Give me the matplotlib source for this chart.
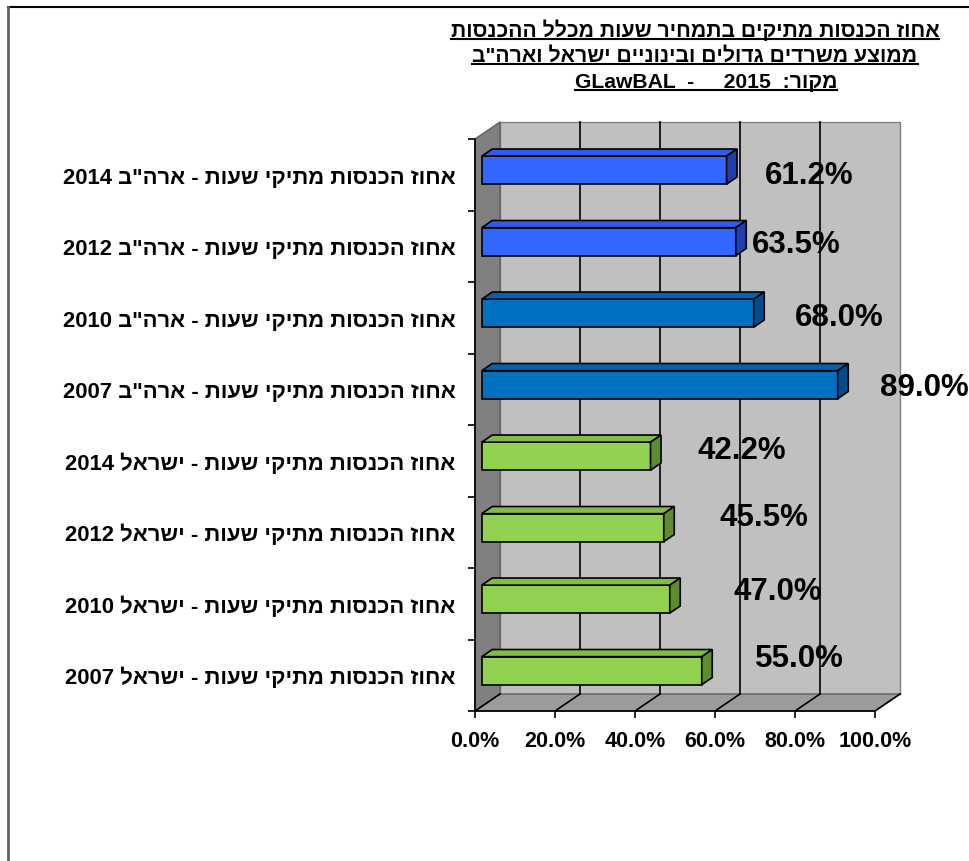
import re
import matplotlib
matplotlib.use("Agg")
import matplotlib.pyplot as plt
from matplotlib.patches import Polygon, Rectangle
from matplotlib.lines import Line2D

plt.rcParams['font.family'] = ['Liberation Sans', 'DejaVu Sans']

# data, bottom to top
labels = [
    'אחוז הכנסות מתיקי שעות - ישראל 2007',
    'אחוז הכנסות מתיקי שעות - ישראל 2010',
    'אחוז הכנסות מתיקי שעות - ישראל 2012',
    'אחוז הכנסות מתיקי שעות - ישראל 2014',
    'אחוז הכנסות מתיקי שעות - ארה"ב 2007',
    'אחוז הכנסות מתיקי שעות - ארה"ב 2010',
    'אחוז הכנסות מתיקי שעות - ארה"ב 2012',
    'אחוז הכנסות מתיקי שעות - ארה"ב 2014',
]
values = [55.0, 47.0, 45.5, 42.2, 89.0, 68.0, 63.5, 61.2]
xticks = [0, 20, 40, 60, 80, 100]
title_lines = [
    'אחוז הכנסות מתיקים בתמחיר שעות מכלל ההכנסות',
    'ממוצע משרדים גדולים ובינוניים ישראל וארה"ב',
    'מקור:  2015     -  GLawBAL',
]

# layout of the value labels (as Excel placed them)
label_x = [70, 64.5, 61.25, 55.5, 101.25, 80, 69.25, 72.5]
label_dy = [0.24, 0.18, 0.21, 0.15, 0.03, 0.01, 0.03, 0.0]

# face colours: front, top, side
green = ('#92D050', '#7FBD44', '#5E8C30')
blue = ('#0070C0', '#0065B0', '#004C8C')
bright = ('#3366FF', '#2E5CEB', '#1F3FAA')
bar_colors = [green] * 4 + [blue] * 2 + [bright] * 2


def visual(s):
    # crude RTL -> visual order, keeping latin/digit runs left-to-right
    r = s[::-1]
    return re.sub(r'[A-Za-z0-9.%]+', lambda m: m.group(0)[::-1], r)


W, H = 969, 862
fig = plt.figure(figsize=(W / 100, H / 100), dpi=100)

# front plane of the 3d box, in pixels
x0, x1, ytop, ybot = 475, 875, 140, 712
ax = fig.add_axes([x0 / W, 1 - ybot / H, (x1 - x0) / W, (ybot - ytop) / H])
ax.set_xlim(0, 100)
ax.set_ylim(-0.5, 7.5)
ax.patch.set_visible(False)

DX = 25 / 4.0                 # depth in x data units
DY = 17 / 71.5                # depth in category units
ylo, yhi = -0.5, 7.5

# back wall
ax.add_patch(Rectangle((DX, ylo + DY), 100, yhi - ylo, facecolor='#C0C0C0',
                       edgecolor='#808080', lw=1, clip_on=False, zorder=0))
# left wall
ax.add_patch(Polygon([(0, ylo), (DX, ylo + DY), (DX, yhi + DY), (0, yhi)],
                     closed=True, facecolor='#808080', edgecolor='#606060',
                     lw=1, clip_on=False, zorder=0.5))
# floor
ax.add_patch(Polygon([(0, ylo), (100, ylo), (100 + DX, ylo + DY), (DX, ylo + DY)],
                     closed=True, facecolor='#9C9C9C', edgecolor='#606060',
                     lw=1, clip_on=False, zorder=0.5))
# gridlines on back wall and floor
for t in xticks:
    if 0 < t < 100:
        ax.plot([t + DX, t + DX], [ylo + DY, yhi + DY], color='black', lw=1.2,
                clip_on=False, zorder=0.6)
    ax.plot([t, t + DX], [ylo, ylo + DY], color='black', lw=1.2,
            clip_on=False, zorder=0.6)

# bars
f, b, h = 0.27, 0.69, 28 / 71.5
for i, (v, c) in enumerate(zip(values, bar_colors)):
    bx = f * DX
    by = i - h / 2 + f * DY
    ddx = (b - f) * DX
    ddy = (b - f) * DY
    ax.add_patch(Rectangle((bx, by), v, h, facecolor=c[0], edgecolor='black',
                           lw=1.2, clip_on=False, zorder=3))
    ax.add_patch(Polygon([(bx, by + h), (bx + v, by + h), (bx + v + ddx, by + h + ddy),
                          (bx + ddx, by + h + ddy)], closed=True, facecolor=c[1],
                         edgecolor='black', lw=1.2, clip_on=False, zorder=3))
    ax.add_patch(Polygon([(bx + v, by), (bx + v, by + h), (bx + v + ddx, by + h + ddy),
                          (bx + v + ddx, by + ddy)], closed=True, facecolor=c[2],
                         edgecolor='black', lw=1.2, clip_on=False, zorder=3))
    ax.text(label_x[i], i + label_dy[i], f'{v:.1f}%', fontsize=22.5, fontweight='bold',
            ha='left', va='center', zorder=5, clip_on=False)

# axes
for s in ['top', 'right']:
    ax.spines[s].set_visible(False)
for s in ['left', 'bottom']:
    ax.spines[s].set_color('black')
    ax.spines[s].set_linewidth(1.2)
ax.set_xticks(xticks)
ax.set_xticklabels([f'{t:.1f}%' for t in xticks], fontsize=15.5, fontweight='bold')
ax.tick_params(axis='x', length=5, width=1.2, pad=9)
ax.set_yticks(range(len(labels)))
ax.set_yticklabels([visual(l) for l in labels], fontsize=15.8, fontweight='bold')
ax.set_yticks([k - 0.5 for k in range(len(labels) + 1)], minor=True)
ax.tick_params(axis='y', which='major', length=0, pad=14)
ax.tick_params(axis='y', which='minor', length=5, width=1.2)

# outer frame (top and left only)
fig.add_artist(Line2D([8 / W, 1], [1 - 8 / H, 1 - 8 / H], color='black', lw=1.5))
fig.add_artist(Line2D([8 / W, 8 / W], [0, 1 - 8 / H], color='#606060', lw=2))

# title, underlined
title_y = [30, 56, 82]
title_x = [695, 695, 706]
texts = []
for line, tx, ty in zip(title_lines, title_x, title_y):
    texts.append(fig.text(tx / W, 1 - ty / H, visual(line), fontsize=15.2,
                          fontweight='bold', ha='center', va='center'))
fig.canvas.draw()
r = fig.canvas.get_renderer()
for t in texts:
    bb = t.get_window_extent(r)
    fig.add_artist(Line2D([bb.x0 / W, bb.x1 / W], [(bb.y0 + 1) / H, (bb.y0 + 1) / H],
                          color='black', lw=1.5))

fig.savefig('out.png', dpi=100)
